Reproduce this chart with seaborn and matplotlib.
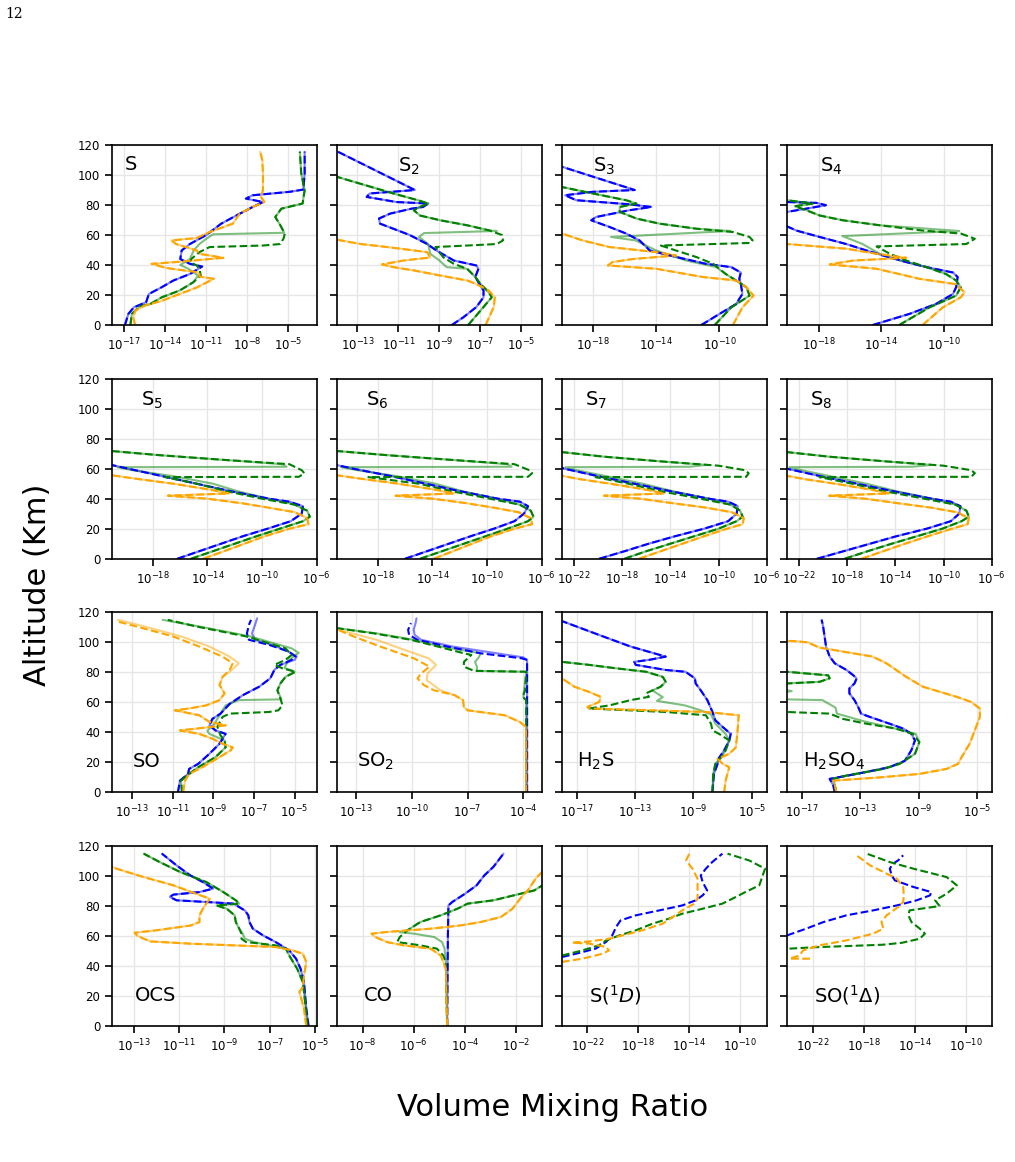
import numpy as np
import pandas as pd
import seaborn as sns
import matplotlib.pyplot as plt
from matplotlib.ticker import NullLocator

# Profiles: (altitude in km, log10 of volume mixing ratio)

# S
S_blue = [(0, -16.95), (7.4, -16.7), (11.8, -16.3), (15.2, -15.4), (20.7, -15.2), (25, -14.3), (29.7, -13.4),
          (34, -12.2), (39, -11.3), (40.8, -12.2), (44, -12.9), (49.7, -12.8), (54, -12.2), (60, -11.0),
          (67.6, -9.9), (73, -8.8), (78.7, -7.6), (82, -6.85), (84.3, -8.1), (86.5, -7.6), (88.8, -4.9),
          (90.3, -3.9), (101, -3.8), (115.5, -3.8)]
S_green = [(0, -16.55), (7.4, -16.45), (12.5, -15.85), (14, -15.1), (18.5, -14.25), (23, -12.95), (28.5, -11.95),
           (33, -11.4), (37.5, -11.5), (39.7, -11.7), (42, -12.2), (44, -12.1), (48.6, -11.5), (52, -10.75),
           (53, -6.85), (54, -5.6), (57.5, -5.35), (61, -5.25), (67.6, -5.65), (72, -5.95), (77.6, -5.5),
           (81, -3.95), (90, -3.8), (101, -4.05), (115.5, -4.15)]
S_green_solid = [(0, -16.55), (7.4, -16.45), (12.5, -15.85), (14, -15.1), (18.5, -14.25), (23, -12.95),
                 (28.5, -11.95), (33, -11.6), (37.5, -12.3), (40, -12.9), (44, -12.2), (50, -11.9), (54, -11.5),
                 (57.5, -11.0), (60.5, -10.5), (61.5, -5.3), (67.6, -5.65), (72, -5.95), (77.6, -5.5),
                 (81, -3.95), (90, -3.8), (101, -4.05), (115.5, -4.15)]
S_orange = [(0, -16.2), (5, -16.35), (9.6, -16.2), (13, -15.5), (16, -14.3), (20.7, -12.95), (25, -11.7),
            (30.8, -10.45), (32.3, -11.5), (35, -11.5), (38, -13.9), (40.8, -15.0), (42, -13.2), (44.8, -9.75),
            (47.5, -11.5), (49.7, -11.7), (54, -13.2), (56.4, -13.55), (58, -11.7), (62, -10.75), (67.6, -9.05),
            (74.3, -8.55), (78.7, -7.6), (82, -6.75), (85.4, -7.0), (90, -6.85), (101, -6.85), (110, -6.9),
            (115.5, -7.05)]

# S2
S2_blue = [(0, -8.4), (5, -7.85), (12, -7.2), (18.5, -6.85), (23, -6.85), (27.4, -7.05), (32, -7.25),
           (37.5, -7.1), (39.7, -7.2), (43, -8.3), (45, -8.55), (49.7, -9.15), (54, -9.6), (60, -10.45),
           (67.6, -11.9), (71, -11.95), (74.3, -11.4), (77.6, -10.35), (78.7, -9.8), (81, -9.55), (82, -11.1),
           (85.4, -12.55), (87.7, -12.4), (90, -10.2), (115.5, -13.95)]
S2_green = [(0, -7.6), (9.6, -7.0), (18.5, -6.45), (21.9, -6.6), (27.4, -7.0), (32, -7.25), (37.5, -7.65),
            (40.8, -8.3), (45, -8.8), (52, -9.2), (53, -7.65), (54, -6.2), (56.4, -5.9), (60, -5.95), (63, -6.55),
            (66.5, -7.65), (69.8, -8.95), (73, -9.95), (76.5, -10.25), (78.7, -9.95), (81, -9.55), (83, -10.0),
            (87.7, -11.25), (98.8, -14.0)]
S2_green_solid = [(0, -7.6), (9.6, -7.0), (18.5, -6.45), (21.9, -6.6), (27.4, -7.0), (32, -7.25), (37.5, -7.65),
                  (38.6, -8.65), (43, -9.0), (47.5, -9.45), (54, -9.55), (58.7, -10.0), (61.3, -9.75),
                  (62.7, -6.2), (63, -6.55), (66.5, -7.65), (69.8, -8.95), (73, -9.95), (76.5, -10.25),
                  (78.7, -9.95), (81, -9.55), (83, -10.0), (87.7, -11.25), (98.8, -14.0)]
S2_orange = [(0, -6.75), (12, -6.35), (18.5, -6.3), (23, -6.6), (27.4, -7.2), (29.7, -7.65), (33, -8.95),
             (36.4, -10.25), (38.6, -11.25), (40.4, -11.8), (43, -10.75), (45, -9.45), (48.6, -9.6), (52, -11.55),
             (54, -12.85), (56.9, -14.0)]

# S3
S3_blue = [(0, -11.15), (7.4, -10.0), (14, -8.95), (20.7, -8.55), (27.4, -8.65), (30.8, -8.75), (35, -8.65),
           (38.6, -9.25), (40.8, -10.85), (46.4, -13.15), (49.7, -14.4), (56.4, -15.05), (61, -15.9),
           (65.4, -16.95), (69.8, -18.1), (72, -17.8), (76.5, -15.7), (78.7, -14.3), (80.5, -15.7), (83.2, -19.05),
           (86.5, -19.75), (88.8, -18.0), (90, -15.35), (105.5, -19.95)]
S3_green = [(0, -10.3), (11.8, -9.25), (19.6, -8.1), (25.2, -8.3), (29.7, -8.95), (34, -9.6), (40.8, -10.4),
            (45.3, -11.45), (49.7, -12.75), (53, -13.7), (54.7, -8.1), (56.4, -7.9), (58.7, -8.1), (62, -9.15),
            (64.2, -11.45), (67.6, -13.8), (71, -15.25), (75.4, -16.3), (78.7, -16.3), (81, -15.25),
            (83.2, -15.9), (87.7, -18.0), (92, -19.95)]
S3_green_solid = [(0, -10.3), (11.8, -9.25), (19.6, -8.1), (25.2, -8.3), (29.7, -8.95), (34, -9.6),
                  (38.6, -10.2), (43, -12.1), (49.7, -14.0), (56.4, -15.3), (58.7, -16.85), (62.7, -9.3),
                  (64.2, -11.45), (67.6, -13.8), (71, -15.25), (75.4, -16.3), (78.7, -16.3), (81, -15.25),
                  (83.2, -15.9), (87.7, -18.0), (92, -19.95)]
S3_orange = [(0, -9.15), (11.8, -8.55), (19.6, -7.85), (25.2, -8.3), (29.7, -8.95), (32, -11.05), (37.5, -14.0),
             (39.7, -17.05), (42, -16.75), (44, -15.45), (46.4, -12.75), (48.6, -14.0), (52, -16.95),
             (56.4, -18.65), (61, -19.95)]

# S4
S4_blue = [(0, -14.55), (7.4, -12.2), (14, -10.5), (20.7, -9.4), (25.2, -9.2), (32, -9.1), (35, -9.4),
           (38.6, -11.1), (42, -12.4), (46.4, -13.9), (49.7, -14.95), (54, -16.25), (58.7, -17.95), (63, -19.45),
           (65.8, -20.05), (70, -21.0), (75.4, -20.05), (77.6, -18.8), (79.9, -17.55), (81.4, -18.15),
           (82, -20.05), (85, -21.5)]
S4_green = [(0, -12.85), (11.8, -10.9), (19.6, -9.2), (25.2, -8.9), (29.7, -9.2), (34, -9.85), (38.6, -11.1),
            (43, -12.4), (47.5, -13.45), (52.4, -14.3), (54, -8.55), (57.5, -8.0), (61, -8.9), (63, -11.35),
            (66.5, -14.1), (69.8, -16.45), (73, -17.95), (76.5, -18.8), (79.2, -19.55), (81, -18.4),
            (83.2, -20.05), (86, -21.5)]
S4_green_solid = [(0, -12.85), (11.8, -10.9), (19.6, -9.2), (25.2, -8.9), (29.7, -9.2), (34, -9.85),
                  (38.6, -11.1), (43, -12.8), (47.5, -14.1), (54, -15.2), (57.5, -16.05), (59.3, -16.5),
                  (62.7, -9.0), (66.5, -14.1), (69.8, -16.45), (73, -17.95), (76.5, -18.8), (79.2, -19.55),
                  (81, -18.4), (83.2, -20.05), (86, -21.5)]
S4_orange = [(0, -11.35), (11.8, -10.05), (18.5, -8.9), (21.9, -8.65), (27.4, -9.3), (30.8, -11.55),
             (34, -12.85), (37.5, -14.3), (40.4, -17.3), (43, -15.8), (44.8, -12.4), (47.5, -14.3),
             (50.9, -16.25), (54, -20.05), (56, -21.0)]

# S5
S5_blue = [(0, -16.2), (5, -14.6), (10, -13.0), (15, -11.4), (20, -9.6), (25, -7.9), (30, -7.1), (35, -7.0),
           (38, -8.0), (40, -9.5), (45, -12.3), (50, -14.8), (55, -17.3), (60, -19.8), (63, -21.3)]
S5_green = [(0, -15.2), (5, -13.6), (10, -12.0), (15, -10.4), (20, -8.7), (25, -7.0), (28, -6.5), (32, -6.7),
            (36, -7.6), (40, -10.0), (45, -12.6), (50, -14.8), (54.4, -17.1), (54.6, -7.3), (57, -6.9),
            (59, -7.1), (63, -8.0), (66, -13.0), (69, -17.5), (72, -21.3)]
S5_green_solid = [(0, -15.2), (5, -13.6), (10, -12.0), (15, -10.4), (20, -8.7), (25, -7.0), (28, -6.5),
                  (32, -6.7), (36, -7.6), (40, -9.5), (45, -11.8), (50, -13.6), (55, -16.5), (59, -19.5),
                  (61, -20.6), (61.3, -8.2), (63, -8.5), (66, -13.0), (69, -17.5), (72, -21.3)]
S5_orange = [(0, -14.3), (5, -12.8), (10, -11.3), (15, -9.8), (20, -8.0), (23, -6.6), (27, -6.7), (31, -7.6),
             (34, -9.5), (37, -11.5), (40, -14.0), (42, -16.9), (43.5, -12.4), (46, -13.8), (50, -16.5),
             (53, -19.0), (56, -21.3)]

# S6
S6_blue = [(0, -16.0), (5, -14.4), (10, -12.8), (15, -11.2), (20, -9.5), (25, -8.0), (30, -7.3), (35, -7.0),
           (38, -7.6), (40, -9.2), (45, -12.0), (50, -14.5), (55, -17.0), (60, -19.8), (63, -21.3)]
S6_green = [(0, -14.9), (5, -13.3), (10, -11.7), (15, -10.1), (20, -8.5), (25, -7.0), (28, -6.6), (32, -6.8),
            (36, -7.6), (40, -9.8), (45, -12.6), (50, -15.0), (54.4, -18.7), (54.6, -7.0), (57, -6.7),
            (59, -6.9), (63, -8.0), (66, -12.8), (69, -17.3), (72, -21.3)]
S6_green_solid = [(0, -14.9), (5, -13.3), (10, -11.7), (15, -10.1), (20, -8.5), (25, -7.0), (28, -6.6),
                  (32, -6.8), (36, -7.6), (40, -9.3), (45, -11.8), (50, -13.8), (55, -16.6), (59, -19.5),
                  (61, -20.7), (61.3, -8.2), (63, -8.5), (66, -12.8), (69, -17.3), (72, -21.3)]
S6_orange = [(0, -13.9), (5, -12.5), (10, -11.1), (15, -9.7), (20, -8.0), (23, -6.7), (27, -6.8), (31, -7.7),
             (34, -9.5), (37, -11.5), (40, -14.0), (42, -16.7), (43.5, -12.4), (46, -13.8), (50, -16.5),
             (53, -19.0), (56, -21.3)]

# S7
S7_blue = [(0, -19.9), (5, -17.8), (10, -15.8), (15, -13.6), (20, -11.2), (25, -9.2), (30, -8.5), (35, -8.4),
           (38, -9.2), (40, -10.8), (45, -14.0), (50, -17.0), (55, -20.0), (60, -22.8), (62, -23.5)]
S7_green = [(0, -17.8), (5, -16.0), (10, -14.0), (15, -12.0), (20, -10.0), (25, -8.5), (28, -8.0), (32, -8.2),
            (36, -9.0), (40, -11.5), (45, -14.8), (50, -17.5), (54.4, -20.2), (54.6, -7.7), (57, -7.5),
            (59, -7.8), (62, -10.0), (65, -15.0), (68, -19.5), (71.5, -23.5)]
S7_green_solid = [(0, -17.8), (5, -16.0), (10, -14.0), (15, -12.0), (20, -10.0), (25, -8.5), (28, -8.0),
                  (32, -8.2), (36, -9.0), (40, -10.8), (45, -13.8), (50, -16.3), (55, -19.3), (59, -21.8),
                  (61, -22.7), (61.3, -12.4), (62.5, -11.0), (65, -15.0), (68, -19.5), (71.5, -23.5)]
S7_orange = [(0, -16.6), (5, -14.8), (10, -13.0), (15, -11.2), (20, -9.3), (23, -8.0), (27, -7.9), (31, -8.9),
             (34, -11.0), (37, -13.8), (40, -16.5), (42, -19.5), (43.5, -14.5), (46, -16.0), (50, -19.0),
             (53, -21.5), (56, -23.5)]

# S8
S8_blue = [(0, -20.5), (5, -18.3), (10, -16.1), (15, -13.9), (20, -11.4), (25, -9.4), (30, -8.7), (35, -8.6),
           (38, -9.4), (40, -11.0), (45, -14.2), (50, -17.2), (55, -20.2), (60, -23.0), (62, -23.5)]
S8_green = [(0, -18.2), (5, -16.3), (10, -14.3), (15, -12.2), (20, -10.1), (25, -8.5), (28, -7.9), (32, -8.1),
            (36, -9.0), (40, -11.6), (45, -14.9), (50, -17.6), (54.4, -20.3), (54.6, -7.7), (57, -7.4),
            (59, -7.7), (62, -10.0), (65, -15.0), (68, -19.5), (71.5, -23.5)]
S8_green_solid = [(0, -18.2), (5, -16.3), (10, -14.3), (15, -12.2), (20, -10.1), (25, -8.5), (28, -7.9),
                  (32, -8.1), (36, -9.0), (40, -10.9), (45, -13.9), (50, -16.4), (55, -19.4), (59, -21.8),
                  (61, -22.8), (61.3, -12.6), (62.5, -11.0), (65, -15.0), (68, -19.5), (71.5, -23.5)]
S8_orange = [(0, -16.8), (5, -15.0), (10, -13.2), (15, -11.3), (20, -9.3), (23, -8.0), (27, -7.9), (31, -8.9),
             (34, -11.0), (37, -13.8), (40, -16.5), (42, -19.5), (43.5, -14.5), (46, -16.0), (50, -19.0),
             (53, -21.5), (56, -23.5)]

# SO
SO_blue = [(0, -10.75), (7.8, -10.65), (12.3, -10.25), (15.6, -10.2), (19, -9.75), (25.7, -9.2), (32.4, -8.7),
           (39, -8.4), (41.3, -8.9), (44.7, -9.2), (49, -9.05), (52.5, -8.65), (59, -8.2), (64.8, -7.55),
           (70.4, -6.75), (76, -6.2), (81.6, -6.0), (85, -5.7), (88.3, -5.15), (90.5, -4.95), (93.9, -5.3),
           (98.3, -6.25), (101.7, -7.25), (106, -7.35), (111.7, -7.25), (115, -7.15)]
SO_blue_solid = [(0, -10.75), (7.8, -10.65), (12.3, -10.25), (15.6, -10.2), (19, -9.75), (25.7, -9.2),
                 (32.4, -8.7), (39, -8.4), (41.3, -8.9), (44.7, -9.2), (49, -9.05), (52.5, -8.65), (59, -8.2),
                 (64.8, -7.55), (70.4, -6.75), (76, -6.2), (81.6, -6.0), (85, -5.7), (88.3, -5.0), (90.5, -4.9),
                 (93.9, -5.3), (98.3, -6.1), (101.7, -6.95), (106, -7.1), (111.7, -6.95), (116, -6.85)]
SO_green = [(0, -10.55), (7.8, -10.6), (12.3, -10.2), (16.8, -9.75), (23.5, -8.9), (30, -8.4), (34.6, -8.45),
            (38, -8.65), (43.6, -8.8), (48, -8.65), (50.3, -8.55), (52.5, -8.2), (53.6, -6.25), (54.7, -5.8),
            (58, -5.6), (62.6, -5.7), (68, -5.85), (72.6, -5.7), (77, -5.45), (80.4, -4.95), (82.7, -5.6),
            (85, -6.0), (88.3, -5.45), (91.6, -5.15), (96, -5.45), (104, -7.4), (110.6, -9.85), (115, -11.25)]
SO_green_solid = [(0, -10.55), (7.8, -10.6), (12.3, -10.2), (16.8, -9.75), (23.5, -8.9), (30, -8.4),
                  (34.6, -8.45), (39, -9.2), (41, -9.3), (45.8, -8.95), (50.3, -8.75), (54.7, -8.55), (58, -8.4),
                  (61.5, -7.75), (62, -5.65), (68, -5.85), (72.6, -5.7), (77, -5.45), (80.4, -5.0), (83, -5.5),
                  (88, -5.3), (93, -4.8), (96, -5.15), (104, -7.2), (110.6, -9.7), (115, -11.5)]
SO_orange = [(0, -10.5), (7.8, -10.4), (12.3, -10.2), (16.8, -9.55), (23.5, -8.7), (28, -8.15), (30, -8.05),
             (32.4, -8.55), (35.8, -9.05), (39, -9.7), (41.3, -10.65), (42.5, -9.85), (44.7, -8.4), (47, -9.2),
             (51.4, -9.7), (54.7, -10.9), (55.9, -10.2), (58, -9.35), (61.5, -8.7), (66, -8.45), (71.5, -8.7),
             (77, -8.55), (81.6, -8.2), (86, -8.05), (90.5, -8.55), (97.2, -9.7), (104, -11.0), (110.6, -12.8),
             (114, -13.75)]
SO_orange_solid = [(0, -10.5), (7.8, -10.4), (12.3, -10.2), (16.8, -9.55), (23.5, -8.7), (28, -8.15),
                   (30, -8.05), (32.4, -8.55), (35.8, -9.05), (39, -9.7), (41.3, -10.65), (42.5, -9.85),
                   (44.7, -8.4), (47, -9.2), (51.4, -9.7), (54.7, -10.9), (55.9, -10.2), (58, -9.35),
                   (61.5, -8.7), (66, -8.45), (71.5, -8.7), (77, -8.55), (81.6, -8.1), (86, -7.75),
                   (90.5, -8.2), (97.2, -9.2), (104, -10.6), (110.6, -12.4), (115, -13.7)]

# SO2
SO2_blue = [(0, -3.8), (88.3, -3.8), (89.4, -4.1), (92.7, -6.3), (97.2, -8.1), (101.7, -9.7), (105, -10.15),
            (108.4, -10.2), (112.8, -10.05)]
SO2_blue_solid = [(0, -3.8), (88.3, -3.8), (90, -4.0), (97.2, -7.8), (101.7, -9.5), (105, -9.85),
                  (108.4, -9.9), (112.8, -9.8), (116, -9.75)]
SO2_green = [(0, -3.85), (61.5, -3.85), (63.7, -4.05), (68, -3.9), (80.4, -3.85), (81, -6.65), (83.8, -7.2),
             (87, -7.2), (91.6, -6.8), (92.7, -7.2), (97.2, -8.6), (101.7, -10.05), (106, -12.05),
             (109.5, -14.05)]
SO2_green_solid = [(0, -3.85), (61.5, -3.85), (63.7, -4.0), (80.4, -3.85), (81, -6.5), (83.8, -6.5),
                   (87, -6.6), (90, -6.4), (92.7, -6.3), (97.2, -8.4), (101.7, -9.9), (106, -11.9), (109.5, -14.05)]
SO2_orange = [(0, -3.85), (43.6, -3.85), (47, -4.2), (51.4, -5.0), (54.7, -7.0), (57, -7.2), (61.5, -7.25),
              (64.8, -7.7), (68, -8.8), (71.5, -9.35), (76, -9.7), (79.3, -9.5), (83.8, -9.05), (89.4, -9.9),
              (97.2, -11.7), (104, -13.15), (108.8, -14.05)]
SO2_orange_solid = [(0, -3.85), (43.6, -3.85), (47, -4.2), (51.4, -5.0), (54.7, -7.0), (57, -7.2),
                    (61.5, -7.25), (64.8, -7.7), (68, -8.45), (74.7, -9.2), (79.3, -9.15), (85, -8.7),
                    (89.4, -9.1), (95, -10.4), (101.7, -11.9), (108.2, -13.9)]

# H2S
H2S_blue = [(0, -7.7), (12.3, -7.6), (19, -7.35), (22.3, -7.3), (28, -6.9), (34.6, -6.55), (39, -6.45),
            (43.6, -7.0), (48, -7.5), (53.6, -7.7), (61.5, -8.05), (68, -8.5), (72.6, -8.85), (76, -8.9),
            (80.4, -9.55), (81.6, -10.9), (85, -12.95), (87, -13.05), (88.3, -12.05), (90.5, -10.9),
            (97.2, -13.3), (104, -15.2), (114, -17.95)]
H2S_green = [(0, -7.7), (12.3, -7.65), (19, -7.5), (24.7, -7.0), (28, -6.8), (34.6, -6.55), (39, -7.25),
             (41.3, -7.7), (45.8, -7.8), (51.4, -8.15), (53.6, -10.9), (55.9, -16.15), (58, -14.75),
             (61.5, -13.3), (63.7, -12.05), (66, -12.25), (68, -11.8), (70.4, -11.25), (73.7, -10.9), (77, -11.1),
             (80.4, -12.25), (82.7, -14.3), (85, -16.15), (87, -18.0)]
H2S_green_solid = [(0, -7.7), (12.3, -7.65), (19, -7.5), (24.7, -7.0), (28, -6.8), (34.6, -6.55), (39, -6.8),
                   (45.8, -7.5), (52, -7.8), (55, -8.6), (58, -9.6), (61, -11.5), (63.5, -11.1), (66, -11.5),
                   (68, -11.8), (70.4, -11.25), (73.7, -10.9), (77, -11.1), (80.4, -12.25), (82.7, -14.3),
                   (85, -16.15), (87, -18.0)]
H2S_orange = [(0, -6.9), (7.8, -6.8), (16.8, -6.55), (19, -7.0), (22.3, -7.35), (25.7, -6.55), (30, -6.1),
              (39, -6.0), (51.4, -5.9), (53.6, -8.15), (55.9, -16.15), (57, -16.25), (60.3, -15.45),
              (63.7, -15.35), (67, -16.15), (70.4, -17.15), (76, -18.0)]

# H2SO4
H2SO4_blue = [(0, -14.75), (4.5, -14.85), (9, -15.1), (12.3, -13.25), (16.8, -11.0), (21, -9.95), (28, -9.5),
              (34.6, -9.25), (39, -9.5), (42.5, -10.05), (45.8, -11.0), (50.3, -12.35), (52.5, -12.95),
              (57, -13.15), (61.5, -13.4), (66, -13.75), (69.3, -13.75), (72.6, -13.4), (76, -13.25),
              (78.2, -13.5), (81.6, -13.95), (86, -14.75), (90.5, -15.1), (97.2, -15.35), (104, -15.45),
              (110.6, -15.55), (115, -15.65)]
H2SO4_green = [(0, -14.65), (4.5, -14.75), (9, -14.85), (11.2, -13.95), (15.6, -11.45), (19, -10.3),
               (25.7, -9.25), (33.5, -8.95), (39, -9.4), (42.5, -10.55), (45.8, -12.6), (49, -14.2), (52.5, -15.1),
               (53.6, -18.05), (56, -19.5), (65, -19.5), (72.6, -18.05), (73.7, -15.8), (76, -15.1), (78, -15.2),
               (80.4, -18.05), (84, -19.5)]
H2SO4_green_solid = [(0, -14.65), (4.5, -14.75), (9, -14.85), (11.2, -13.95), (15.6, -11.45), (19, -10.3),
                     (25.7, -9.25), (33.5, -8.95), (39, -9.2), (43, -10.8), (47.5, -12.8), (52.5, -14.6),
                     (56.5, -14.7), (61.5, -15.6), (62, -18.05), (64, -19.5), (66.5, -18.3), (67.5, -17.7),
                     (68.5, -18.3), (70, -19.5), (72.6, -18.05), (73.7, -15.8), (76, -15.1), (78, -15.2),
                     (80.4, -18.05), (84, -19.5)]
H2SO4_orange = [(0, -14.65), (5.6, -14.75), (7.8, -14.85), (10, -11.65), (12.3, -8.95), (15.6, -7.1),
                (19, -6.3), (23.5, -6.05), (32.4, -5.5), (41.3, -5.15), (50.3, -4.8), (55.9, -4.8), (60.3, -5.4),
                (63.7, -6.4), (70.4, -8.7), (77, -9.85), (86, -11.2), (90.5, -12.15), (96.5, -15.8),
                (100, -16.6), (100.8, -17.5), (101, -18.1)]

# OCS
OCS_blue = [(0, -5.3), (11.6, -5.4), (20.4, -5.45), (29.3, -5.5), (38.2, -5.65), (44.9, -5.85), (50.4, -6.15),
            (56, -6.75), (60.4, -7.3), (64.9, -7.75), (69.3, -7.9), (73.8, -7.95), (77, -8.1), (79.3, -8.35),
            (81.6, -8.6), (82.7, -9.8), (83.8, -11.1), (86, -11.4), (87.6, -11.25), (89.3, -10.1), (91.6, -9.5),
            (96, -9.95), (100.4, -10.5), (107, -11.1), (114.9, -11.75)]
OCS_green = [(0, -5.35), (15.8, -5.45), (29.3, -5.55), (38.2, -5.8), (47, -6.15), (51.6, -6.3), (53.8, -6.75),
             (56, -8.05), (58.2, -8.25), (61.6, -8.25), (64.9, -8.35), (69.3, -8.5), (73.8, -8.55), (78.2, -8.9),
             (80.4, -9.35), (81.6, -8.35), (83.8, -8.5), (89.3, -9.05), (96, -9.8), (102.7, -10.95),
             (109.3, -11.85), (114.9, -12.55)]
OCS_green_solid = [(0, -5.35), (15.8, -5.45), (29.3, -5.55), (38.2, -5.8), (47, -6.15), (51.6, -6.3),
                   (54, -7.1), (56, -7.7), (58.2, -8.1), (61.6, -8.2), (64.9, -8.35), (69.3, -8.5), (73.8, -8.55),
                   (78.2, -8.9), (80.4, -9.35), (81.6, -8.35), (83.8, -8.5), (89.3, -9.05), (96, -9.8),
                   (102.7, -10.95), (109.3, -11.85), (114.9, -12.55)]
OCS_orange = [(0, -5.4), (11.6, -5.5), (22.7, -5.7), (26, -5.55), (33.8, -5.5), (42.7, -5.4), (48.2, -5.55),
              (50.4, -6.0), (52.7, -6.75), (54.9, -10.5), (56.4, -12.25), (58.2, -12.55), (60.4, -12.85),
              (62.2, -12.95), (63.8, -12.0), (67, -10.5), (69.3, -10.1), (73.8, -10.1), (78.2, -9.95),
              (81.6, -9.8), (84.9, -9.65), (88.2, -10.25), (93.8, -11.25), (99.3, -12.55), (104.9, -13.75),
              (109.3, -14.45)]

# CO
CO_blue = [(0, -4.7), (40.4, -4.68), (60.4, -4.67), (80.4, -4.65), (82.7, -4.5), (86, -4.2), (88.2, -4.0),
           (93.8, -3.55), (100.4, -3.25), (106, -2.9), (114.9, -2.5)]
CO_green = [(0, -4.7), (42.7, -4.75), (47, -4.85), (51.6, -5.1), (53.8, -5.75), (56, -6.65), (59.3, -6.55),
            (63.8, -6.25), (69.3, -5.75), (73.8, -4.95), (78.2, -4.3), (81.6, -3.9), (83.8, -2.9), (87.1, -2.1),
            (90.4, -1.3), (93.8, -0.98)]
CO_green_solid = [(0, -4.7), (42.7, -4.75), (51.6, -4.8), (56, -4.9), (59.3, -5.2), (61.6, -6.0),
                  (62.5, -6.55), (63.8, -6.25), (69.3, -5.75), (73.8, -4.95), (78.2, -4.3), (81.6, -3.9),
                  (83.8, -2.9), (87.1, -2.1), (90.4, -1.3), (93.8, -0.98)]
CO_orange = [(0, -4.7), (38.2, -4.75), (42.7, -4.85), (47, -4.95), (51.6, -5.35), (53.8, -6.4), (56, -7.05),
             (59.3, -7.5), (61.6, -7.65), (62.7, -7.05), (64.9, -5.35), (67, -4.2), (69.3, -3.4), (72.7, -2.6),
             (78.2, -2.15), (84.9, -1.85), (91.6, -1.5), (98.2, -1.25), (102.7, -1.0)]

# S(1D)
S1D_blue = [(46, -24.0), (48.2, -22.9), (51.6, -21.35), (56, -20.55), (60.4, -20.05), (66, -19.75),
            (70.4, -19.4), (73.8, -18.2), (77.1, -16.35), (80.4, -14.55), (83.8, -13.5), (87.1, -12.95),
            (90.4, -12.6), (96, -12.95), (100.4, -13.1), (104.9, -12.7), (109.3, -12.2), (114.9, -11.4)]
S1D_green = [(47, -24.0), (50.4, -22.4), (53.8, -21.1), (57, -20.55), (60.4, -19.5), (63.8, -18.2),
             (68.2, -16.9), (71.6, -15.6), (74.9, -14.55), (78.2, -12.95), (81.6, -11.4), (86, -10.35),
             (89.3, -9.6), (93.8, -8.5), (104.9, -8.05), (110.4, -9.3), (114.9, -11.0)]
S1D_orange = [(42.7, -24.0), (44.9, -22.4), (48.2, -20.8), (50.4, -20.3), (52.7, -20.55), (54.9, -21.85),
              (55.6, -23.2), (56.4, -21.85), (58.2, -20.3), (60.4, -19.25), (63.8, -17.7), (68.2, -16.1),
              (72.7, -15.3), (77.1, -14.55), (81.6, -13.6), (84.9, -13.35), (91.6, -13.35), (98.2, -13.35),
              (104.9, -13.75), (110.4, -14.25), (114.9, -14.0)]

# SO(1Delta)
SO1D_blue = [(60.4, -24.0), (64.9, -22.5), (69.3, -21.15), (73.8, -19.35), (77.1, -17.25), (80.4, -15.4),
             (83.8, -13.85), (87.1, -12.8), (89.3, -12.7), (92.7, -14.1), (97.1, -15.55), (100.4, -15.8),
             (104.9, -15.95), (108.2, -15.7), (110.4, -15.3), (113.8, -14.9)]
SO1D_green = [(51.6, -23.8), (52.5, -21.9), (54.2, -16.5), (55.5, -15.0), (58.2, -13.6), (61.6, -13.2),
              (64.9, -13.6), (69.3, -14.25), (73.8, -14.5), (77.1, -14.4), (80, -12.05), (83.8, -12.4),
              (88.2, -11.5), (93.8, -10.7), (99.3, -11.5), (104.9, -14.1), (109.3, -15.95), (114.9, -17.75)]
SO1D_orange = [(44.9, -22.2), (44.9, -23.8), (47.1, -23.0), (50.4, -22.75), (53.8, -21.45), (57.1, -19.35),
               (61.6, -17.25), (64.9, -16.45), (69.3, -16.6), (73.8, -16.2), (79.3, -15.3), (82.7, -14.9),
               (87.1, -14.85), (92.7, -14.9), (98.2, -15.4), (102.7, -16.45), (107.1, -17.5), (113.8, -18.55)]

# panel labels, log10 x-limits and log10 tick positions
labels = ['S', 'S$_2$', 'S$_3$', 'S$_4$',
          'S$_5$', 'S$_6$', 'S$_7$', 'S$_8$',
          'SO', 'SO$_2$', 'H$_2$S', 'H$_2$SO$_4$',
          'OCS', 'CO', 'S($^1D$)', 'SO($^1\\Delta$)']
xlims = [(-17.9, -2.9), (-14.0, -4.0), (-19.95, -7.0), (-20.05, -6.9),
         (-21.0, -5.98), (-21.0, -5.98), (-23.0, -5.98), (-23.0, -5.98),
         (-14.0, -3.9), (-14.03, -3.0), (-18.0, -3.97), (-18.03, -3.97),
         (-13.95, -4.93), (-9.0, -1.0), (-24.0, -7.9), (-24.0, -7.95)]
xticks = [[-17, -14, -11, -8, -5], [-13, -11, -9, -7, -5], [-18, -14, -10], [-18, -14, -10],
          [-18, -14, -10, -6], [-18, -14, -10, -6], [-22, -18, -14, -10, -6], [-22, -18, -14, -10, -6],
          [-13, -11, -9, -7, -5], [-13, -10, -7, -4], [-17, -13, -9, -5], [-17, -13, -9, -5],
          [-13, -11, -9, -7, -5], [-8, -6, -4, -2], [-22, -18, -14, -10], [-22, -18, -14, -10]]

# lines per panel: (blue, blue solid, green, green solid, orange, orange solid)
profiles = [
    (S_blue, S_blue, S_green, S_green_solid, S_orange, S_orange),
    (S2_blue, S2_blue, S2_green, S2_green_solid, S2_orange, S2_orange),
    (S3_blue, S3_blue, S3_green, S3_green_solid, S3_orange, S3_orange),
    (S4_blue, S4_blue, S4_green, S4_green_solid, S4_orange, S4_orange),
    (S5_blue, S5_blue, S5_green, S5_green_solid, S5_orange, S5_orange),
    (S6_blue, S6_blue, S6_green, S6_green_solid, S6_orange, S6_orange),
    (S7_blue, S7_blue, S7_green, S7_green_solid, S7_orange, S7_orange),
    (S8_blue, S8_blue, S8_green, S8_green_solid, S8_orange, S8_orange),
    (SO_blue, SO_blue_solid, SO_green, SO_green_solid, SO_orange, SO_orange_solid),
    (SO2_blue, SO2_blue_solid, SO2_green, SO2_green_solid, SO2_orange, SO2_orange_solid),
    (H2S_blue, H2S_blue, H2S_green, H2S_green_solid, H2S_orange, H2S_orange),
    (H2SO4_blue, H2SO4_blue, H2SO4_green, H2SO4_green_solid, H2SO4_orange, H2SO4_orange),
    (OCS_blue, OCS_blue, OCS_green, OCS_green_solid, OCS_orange, OCS_orange),
    (CO_blue, CO_blue, CO_green, CO_green_solid, CO_orange, CO_orange),
    (S1D_blue, None, S1D_green, None, S1D_orange, None),
    (SO1D_blue, None, SO1D_green, None, SO1D_orange, None),
]

# label placement in axes fraction
label_pos = [(0.06, 0.89), (0.30, 0.88), (0.15, 0.88), (0.16, 0.88),
             (0.14, 0.88), (0.14, 0.88), (0.11, 0.88), (0.11, 0.88),
             (0.10, 0.17), (0.10, 0.17), (0.075, 0.17), (0.08, 0.17),
             (0.11, 0.17), (0.13, 0.17), (0.13, 0.17), (0.13, 0.17)]


def draw_profile(ax, pts, color, dashed):
    df = pd.DataFrame(pts, columns=['alt', 'logvmr'])
    df['vmr'] = np.power(10.0, df['logvmr'])
    if dashed:
        sns.lineplot(data=df, x='vmr', y='alt', sort=False, estimator=None, ax=ax,
                     color=color, lw=1.5, linestyle='--')
    else:
        sns.lineplot(data=df, x='vmr', y='alt', sort=False, estimator=None, ax=ax,
                     color=color, lw=1.5, alpha=0.5)


sns.set_style('ticks', {'axes.grid': True, 'grid.color': '#e6e6e6', 'axes.edgecolor': 'black'})
plt.rcParams['font.family'] = ['DejaVu Sans']
plt.rcParams['text.color'] = 'black'
plt.rcParams['axes.labelcolor'] = 'black'
plt.rcParams['xtick.color'] = 'black'
plt.rcParams['ytick.color'] = 'black'

fig, axes = plt.subplots(4, 4, figsize=(10.15, 11.62), dpi=100, sharey=True)
plt.subplots_adjust(left=0.1103, right=0.9773, top=0.8752, bottom=0.117, wspace=0.0976, hspace=0.298)

for i, ax in enumerate(axes.flat):
    ax.set_xscale('log')
    blue, blue_s, green, green_s, orange, orange_s = profiles[i]
    for pts, col in [(blue_s, 'blue'), (green_s, 'green'), (orange_s, 'orange')]:
        if pts is not None:
            draw_profile(ax, pts, col, dashed=False)
    for pts, col in [(blue, 'blue'), (green, 'green'), (orange, 'orange')]:
        draw_profile(ax, pts, col, dashed=True)

    lo, hi = xlims[i]
    ax.set_xlim(10.0 ** lo, 10.0 ** hi)
    ax.set_xticks([10.0 ** t for t in xticks[i]])
    ax.xaxis.set_minor_locator(NullLocator())
    ax.set_ylim(0, 120)
    ax.set_yticks(range(0, 121, 20))
    ax.set_xlabel('')
    ax.set_ylabel('')
    ax.grid(True, color='#e6e6e6', lw=1.0)
    ax.tick_params(axis='both', direction='out', length=5, width=1.2, labelsize=8.5,
                   color='black', labelcolor='black')
    for sp in ax.spines.values():
        sp.set_linewidth(1.2)
        sp.set_color('black')
    lx, ly = label_pos[i]
    ax.text(lx, ly, labels[i], transform=ax.transAxes, ha='left', va='center', fontsize=14, color='black')

fig.text(0.037, 0.497, 'Altitude (Km)', rotation=90, ha='center', va='center', fontsize=22, color='black')
fig.text(0.544, 0.0465, 'Volume Mixing Ratio', ha='center', va='center', fontsize=22, color='black')
fig.text(0.005, 0.988, '12', ha='left', va='center', fontsize=10, family='DejaVu Serif', color='black')

fig.savefig('out.png', dpi=100)
